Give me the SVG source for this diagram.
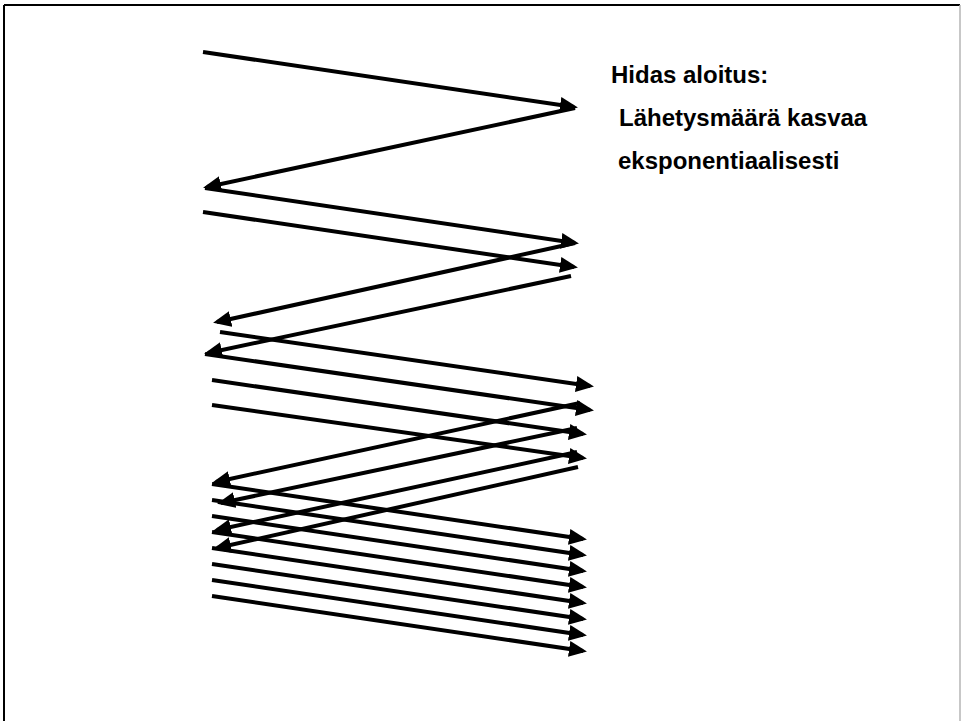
<svg xmlns="http://www.w3.org/2000/svg" width="961" height="721" viewBox="0 0 961 721">
  <style>
    .seg { fill: none; stroke: #000; stroke-width: 4; marker-end: url(#head); }
    .label { font-family: "Liberation Sans", Arial, sans-serif; font-weight: bold; font-size: 24px; fill: #000; }
  </style>
  <defs>
    <marker id="head" markerUnits="userSpaceOnUse" markerWidth="18" markerHeight="16" viewBox="0 0 18 16" refX="14" refY="8" orient="auto">
      <path d="M0,0 L18,8 L0,16 z" fill="#000"/>
    </marker>
  </defs>

  <!-- page frame -->
  <rect x="0" y="0" width="961" height="721" fill="#fff"/>
  <line x1="4" y1="5" x2="960" y2="5" stroke="#000" stroke-width="2"/>
  <line x1="4" y1="5" x2="4" y2="721" stroke="#000" stroke-width="2"/>
  <line x1="960" y1="5" x2="960" y2="721" stroke="#b4b4b4" stroke-width="1.5"/>

  <!-- caption -->
  <g id="caption">
    <text class="label" x="611" y="83">Hidas aloitus:</text>
    <text class="label" x="619" y="126">Lähetysmäärä kasvaa</text>
    <text class="label" x="618" y="169">eksponentiaalisesti</text>
  </g>

  <g id="connectors">
    <!-- round 1: one segment and its ack -->
    <g id="round1">
      <path class="seg" d="M203,52 L574,107"/>
      <path class="seg" d="M575,108 L207,187"/>
    </g>
    <!-- round 2: two segments, two acks -->
    <g id="round2">
      <path class="seg" d="M205,188 L575,243"/>
      <path class="seg" d="M203,212 L574,267"/>
      <path class="seg" d="M575,243 L217,322"/>
      <path class="seg" d="M571,276 L208,353"/>
    </g>
    <!-- round 3: four segments, four acks -->
    <g id="round3">
      <path class="seg" d="M220,332 L590,386"/>
      <path class="seg" d="M205,354 L590,410"/>
      <path class="seg" d="M212,380 L583,434"/>
      <path class="seg" d="M212,405 L583,458"/>
      <path class="seg" d="M580,403 L216,482"/>
      <path class="seg" d="M577,428 L221,503"/>
      <path class="seg" d="M577,452 L217,530"/>
      <path class="seg" d="M578,467 L217,548"/>
    </g>
    <!-- round 4: eight segments -->
    <g id="round4">
      <path class="seg" d="M212,484 L583,539"/>
      <path class="seg" d="M212,500 L583,555"/>
      <path class="seg" d="M212,516 L583,571"/>
      <path class="seg" d="M212,532 L583,587"/>
      <path class="seg" d="M212,548 L583,603"/>
      <path class="seg" d="M212,564 L583,619"/>
      <path class="seg" d="M212,580 L583,635"/>
      <path class="seg" d="M212,596 L583,651"/>
    </g>
  </g>
</svg>
